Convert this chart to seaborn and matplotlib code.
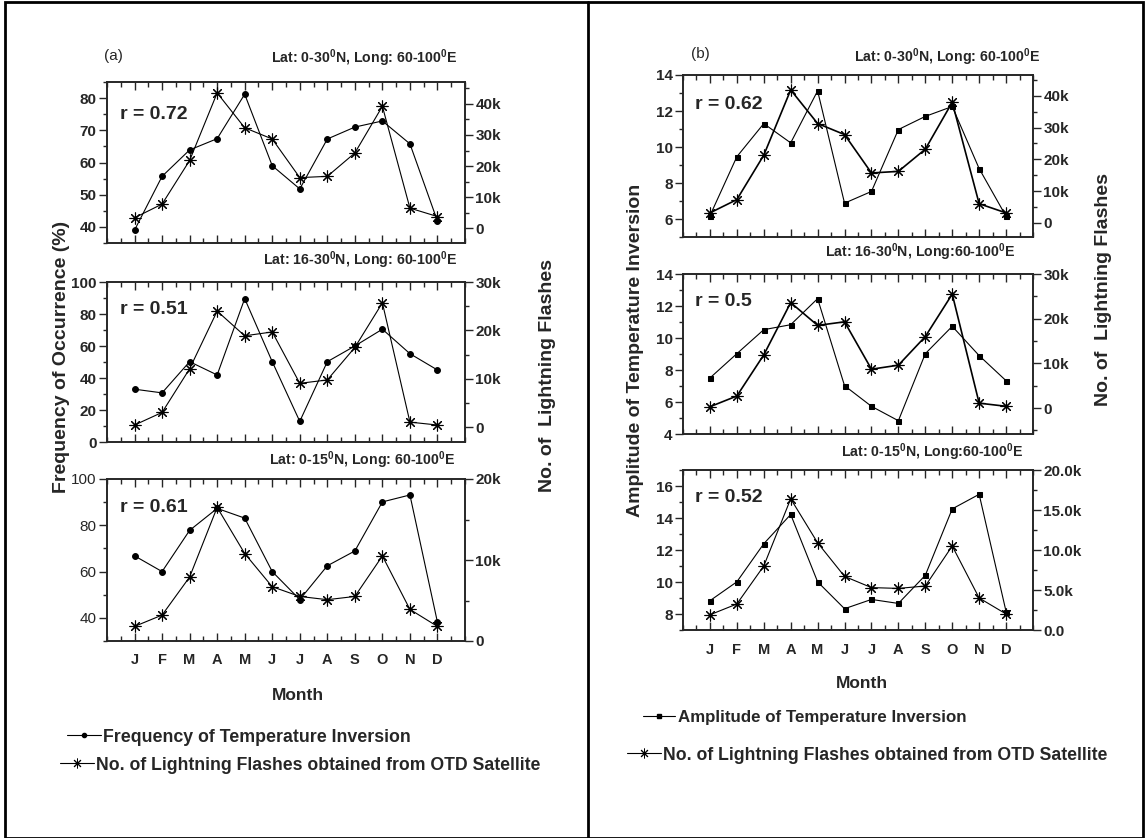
import numpy as np
import pandas as pd
import matplotlib.pyplot as plt
import matplotlib.ticker as mticker
from matplotlib.lines import Line2D
from matplotlib.patches import Rectangle
import seaborn as sns

# data
months = ["J", "F", "M", "A", "M", "J", "J", "A", "S", "O", "N", "D"]
month_pos = list(range(1, 13))

# (a) frequency of temperature inversion (%)
freq_0_30 = [39.0, 55.7, 63.9, 67.4, 81.2, 59.0, 51.8, 67.3, 71.0, 72.9, 65.8, 41.8]
freq_16_30 = [33.0, 30.7, 50.2, 41.9, 89.6, 50.2, 12.9, 50.2, 60.0, 70.5, 55.2, 45.0]
freq_0_15 = [66.8, 60.0, 77.8, 87.3, 83.1, 60.0, 47.9, 62.5, 68.9, 90.1, 93.1, 38.1]

# (b) amplitude of temperature inversion
amp_0_30 = [6.18, 9.46, 11.3, 10.23, 13.12, 6.88, 7.53, 10.97, 11.7, 12.25, 8.8, 6.15]
amp_16_30 = [7.5, 9.02, 10.52, 10.83, 12.46, 7.02, 5.73, 4.83, 9.02, 10.73, 8.9, 7.33]
amp_0_15 = [8.83, 10.01, 12.39, 14.22, 10.01, 8.33, 8.91, 8.66, 10.42, 14.57, 15.48, 8.15]

# lightning flashes (OTD), as plotted in (a)
flash_a_0_30 = [3400, 7800, 21800, 43500, 32300, 28700, 16300, 16700, 24200, 39200, 6500, 3800]
flash_a_16_30 = [500, 3100, 12100, 24000, 18900, 19700, 9100, 9800, 16500, 25700, 1100, 500]
flash_a_0_15 = [1800, 3200, 7900, 16500, 10800, 6700, 5500, 5100, 5500, 10500, 3900, 1800]

# lightning flashes as plotted in (b)
flash_b_0_30 = [3100, 7300, 21300, 41900, 31300, 27800, 15700, 16200, 23200, 38000, 6000, 3100]
flash_b_16_30 = [300, 2700, 11900, 23600, 18500, 19300, 8700, 9600, 16000, 25500, 1100, 400]
flash_b_0_15 = [1900, 3250, 8000, 16400, 10900, 6700, 5300, 5200, 5500, 10500, 4000, 2000]

sns.set_style("ticks")
plt.rcParams["font.family"] = ["Liberation Sans", "DejaVu Sans"]
plt.rcParams["mathtext.fontset"] = "custom"
plt.rcParams["mathtext.rm"] = "Liberation Sans:bold"
plt.rcParams["mathtext.default"] = "rm"

W, H = 1145, 838
fig = plt.figure(figsize=(W / 100, H / 100), dpi=100)


def box(l, r, t, b):
    return [l / W, 1 - b / H, (r - l) / W, (b - t) / H]


def kfmt(v, pos):
    if abs(v) < 1:
        return "0"
    return f"{v / 1000:.0f}k"


def kfmt1(v, pos):
    if abs(v) < 1:
        return "0.0"
    return f"{v / 1000:.1f}k"


star = (8, 2, 0)


def panel(rect, left, right, lmark, ylim, yticks, yminor, ylim2, yticks2, yminor2,
          fmt, r_text, r_y, bottom=False, left_bold=True, lw_right=0.8):
    ax = fig.add_axes(rect)
    ax2 = ax.twinx()
    df = pd.DataFrame({"m": month_pos, "left": left, "right": right})
    sns.lineplot(data=df, x="m", y="left", ax=ax, color="k", lw=0.8,
                 marker=lmark, markersize=3.6 if lmark == "s" else 4.2,
                 markeredgecolor="k", legend=False)
    sns.lineplot(data=df, x="m", y="right", ax=ax2, color="k", lw=lw_right,
                 marker=star, markersize=8.5, markeredgewidth=0.8,
                 markeredgecolor="k", legend=False)
    ax.set_xlim(0, 13)
    ax.set_ylim(*ylim)
    ax2.set_ylim(*ylim2)
    ax.set_yticks(yticks)
    ax.yaxis.set_minor_locator(mticker.MultipleLocator(yminor))
    ax2.set_yticks(yticks2)
    ax2.yaxis.set_minor_locator(mticker.MultipleLocator(yminor2))
    ax2.yaxis.set_major_formatter(mticker.FuncFormatter(fmt))
    ax.set_xticks(month_pos)
    ax.xaxis.set_minor_locator(mticker.MultipleLocator(0.5))
    if bottom:
        ax.set_xticklabels(months, fontsize=10.5, fontweight="bold")
    else:
        ax.set_xticklabels([])
    ax.tick_params(axis="x", which="both", direction="in", top=True, bottom=True,
                   pad=9)
    ax.tick_params(axis="x", which="major", length=6, width=1)
    ax.tick_params(axis="x", which="minor", length=3.5, width=1)
    for a in (ax, ax2):
        a.tick_params(axis="y", which="major", direction="out", length=5.5, width=1,
                      labelsize=11, pad=2)
        a.tick_params(axis="y", which="minor", direction="out", length=3, width=1)
        a.set_xlabel("")
        a.set_ylabel("")
        for s in a.spines.values():
            s.set_visible(True)
            s.set_linewidth(1.2)
    for lab in ax2.get_yticklabels():
        lab.set_fontweight("bold")
    for lab in ax.get_yticklabels():
        lab.set_fontweight("bold" if left_bold else "normal")
    ax.text(0.035, r_y, r_text, transform=ax.transAxes, fontsize=14,
            fontweight="bold", va="center", ha="left")
    return ax


def title(x_right, y, s):
    fig.text(x_right / W, 1 - y / H, s, fontsize=10.2, fontweight="bold",
             ha="right", va="center")


# panel (a)
panel(box(107, 465, 82, 243), freq_0_30, flash_a_0_30, "o", (35, 85), [40, 50, 60, 70, 80], 5,
      (-4700, 47000), [0, 10000, 20000, 30000, 40000], 5000, kfmt, "r = 0.72", 0.80)
panel(box(107, 465, 282, 442), freq_16_30, flash_a_16_30, "o", (0, 100), [0, 20, 40, 60, 80, 100], 10,
      (-3000, 30000), [0, 10000, 20000, 30000], 5000, kfmt, "r = 0.51", 0.825)
panel(box(107, 465, 479, 641), freq_0_15, flash_a_0_15, "o", (30, 100), [40, 60, 80, 100], 10,
      (0, 20000), [0, 10000, 20000], 5000, kfmt, "r = 0.61", 0.827,
      bottom=True, left_bold=False)
title(457, 58, "Lat: 0-30$^0$N, Long: 60-100$^0$E")
title(457, 260, "Lat: 16-30$^0$N, Long: 60-100$^0$E")
title(455, 460, "Lat: 0-15$^0$N, Long: 60-100$^0$E")

# panel (b)
panel(box(683, 1033, 75, 237), amp_0_30, flash_b_0_30, "s", (5, 14), [6, 8, 10, 12, 14], 1,
      (-4500, 46600), [0, 10000, 20000, 30000, 40000], 5000, kfmt, "r = 0.62", 0.815,
      lw_right=1.2)
panel(box(683, 1033, 274, 434), amp_16_30, flash_b_16_30, "s", (4, 14), [4, 6, 8, 10, 12, 14], 1,
      (-5800, 30000), [0, 10000, 20000, 30000], 5000, kfmt, "r = 0.5", 0.825,
      lw_right=1.2)
panel(box(683, 1033, 470, 630), amp_0_15, flash_b_0_15, "s", (7, 17), [8, 10, 12, 14, 16], 1,
      (0, 20000), [0, 5000, 10000, 15000, 20000], 2500, kfmt1, "r = 0.52", 0.83,
      bottom=True)
title(1040, 57, "Lat: 0-30$^0$N, Long: 60-100$^0$E")
title(1015, 252, "Lat: 16-30$^0$N, Long:60-100$^0$E")
title(1023, 452, "Lat: 0-15$^0$N, Long:60-100$^0$E")

# labels
fig.text(113 / W, 1 - 56 / H, "(a)", fontsize=11, ha="center", va="center")
fig.text(700 / W, 1 - 54 / H, "(b)", fontsize=11, ha="center", va="center")
fig.text(62 / W, 1 - 357 / H, "Frequency of Occurrence (%)", rotation=90, fontsize=14,
         fontweight="bold", ha="center", va="center")
fig.text(548 / W, 1 - 375 / H, "No. of  Lightning Flashes", rotation=90, fontsize=14,
         fontweight="bold", ha="center", va="center")
fig.text(636 / W, 1 - 350 / H, "Amplitude of Temperature Inversion", rotation=90, fontsize=14,
         fontweight="bold", ha="center", va="center")
fig.text(1103 / W, 1 - 290 / H, "No. of  Lightning Flashes", rotation=90, fontsize=14,
         fontweight="bold", ha="center", va="center")
fig.text(298 / W, 1 - 695 / H, "Month", fontsize=12.5, fontweight="bold", ha="center", va="center")
fig.text(862 / W, 1 - 683 / H, "Month", fontsize=12.5, fontweight="bold", ha="center", va="center")

# legend entries, one at a time so each can sit where it does in the original
h_dot = Line2D([], [], color="k", lw=0.8, marker="o", markersize=3)
h_sq = Line2D([], [], color="k", lw=0.8, marker="s", markersize=3)
h_star = Line2D([], [], color="k", lw=0.8, marker=star, markersize=7, markeredgewidth=0.7)


def entry(handle, label, x_left, y_mid, size):
    fig.legend([handle], [label], loc="center left",
               bbox_to_anchor=(x_left / W, 1 - y_mid / H), frameon=False,
               prop={"weight": "bold", "size": size}, handlelength=1.9,
               handletextpad=0.15, borderaxespad=0, borderpad=0)


entry(h_dot, "Frequency of Temperature Inversion", 67, 737, 12.8)
entry(h_star, "No. of Lightning Flashes obtained from OTD Satellite", 60, 765, 12.7)
entry(h_sq, "Amplitude of Temperature Inversion", 643, 717, 12.2)
entry(h_star, "No. of Lightning Flashes obtained from OTD Satellite", 627, 755, 12.7)

# outer frame and divider
fig.add_artist(Rectangle((5 / W, 0.5 / H), (W - 7) / W, (H - 3) / H, transform=fig.transFigure,
                         fill=False, lw=2, ec="k"))
fig.add_artist(Line2D([588 / W, 588 / W], [0.5 / H, 1 - 2 / H], transform=fig.transFigure,
                      color="k", lw=2))

fig.savefig("out.png", dpi=100)
